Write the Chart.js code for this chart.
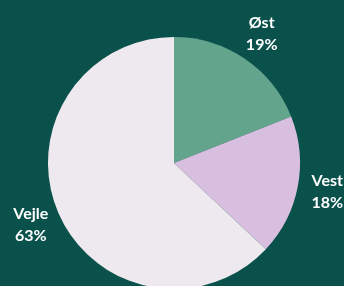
<!DOCTYPE html>
<html>
<head>
<meta charset="utf-8">
<script src="https://cdn.jsdelivr.net/npm/chart.js@4.4.0/dist/chart.umd.min.js"></script>
<style>
  html, body { margin: 0; padding: 0; background: #0b514b; overflow: hidden; }
  #wrap { width: 344px; height: 300px; }
</style>
</head>
<body>
<div id="wrap"><canvas id="pieChart" width="344" height="300"></canvas></div>
<script>
// data
const regions = ["Øst", "Vest", "Vejle"];
const shares = [19, 18, 63];
const colors = ["#62a48c", "#d8bedf", "#eee8ef"];

// labels outside each slice, at a fixed distance from the rim
const outerLabels = {
  id: "outerLabels",
  afterDraw(chart) {
    const ctx = chart.ctx;
    const meta = chart.getDatasetMeta(0);
    ctx.save();
    ctx.fillStyle = "#ffffff";
    ctx.font = "bold 16px Lato";
    ctx.textAlign = "center";
    ctx.textBaseline = "middle";
    meta.data.forEach((arc, i) => {
      const p = arc.getProps(["x", "y", "startAngle", "endAngle", "outerRadius"], true);
      const mid = (p.startAngle + p.endAngle) / 2;
      const r = p.outerRadius + 30;
      const x = p.x + Math.cos(mid) * r;
      const y = p.y + Math.sin(mid) * r;
      ctx.fillText(regions[i], x, y - 11);
      ctx.fillText(shares[i] + "%", x, y + 11);
    });
    ctx.restore();
  },
};

const data = {
  labels: regions,
  datasets: [
    {
      data: shares,
      backgroundColor: colors,
      borderWidth: 0,
    },
  ],
};

let config = {
  type: "pie",
  data: data,
  options: {
    responsive: false,
    animation: false,
    layout: {
      padding: { top: 37, bottom: 11, left: 48, right: 44 },
    },
    plugins: {
      legend: { display: false },
      tooltip: { enabled: false },
    },
  },
  plugins: [outerLabels],
};

const ctx = document.getElementById("pieChart").getContext("2d");
let myChart = new Chart(ctx, config);
</script>
</body>
</html>
